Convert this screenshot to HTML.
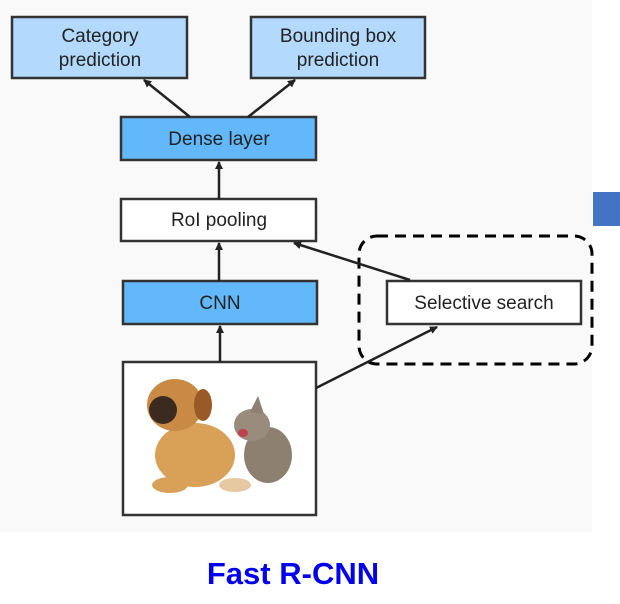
<!DOCTYPE html>
<html><head><style>
body{margin:0;width:620px;height:604px;background:#fff;overflow:hidden;font-family:"Liberation Sans",sans-serif}
</style></head><body>
<svg width="620" height="604" xmlns="http://www.w3.org/2000/svg" style="position:absolute;left:0;top:0">
<defs><marker id="a" markerWidth="8" markerHeight="8" refX="7" refY="4" orient="auto" markerUnits="userSpaceOnUse"><path d="M0,0 L8,4 L0,8 z" fill="#222"/></marker></defs>
<rect x="0" y="0" width="592" height="532" fill="#f9f9f9"/>
<rect x="593" y="192" width="27" height="34" fill="#4472c4"/>
<g stroke="#333" stroke-width="2.5">
<rect x="12" y="17" width="175" height="61" fill="#b3dafc"/>
<rect x="251" y="17" width="174" height="61" fill="#b3dafc"/>
<rect x="121" y="117" width="195" height="43" fill="#63b8fb"/>
<rect x="121" y="199" width="195" height="42" fill="#fff"/>
<rect x="123" y="281" width="194" height="43" fill="#63b8fb"/>
<rect x="387" y="281" width="194" height="43" fill="#fff"/>
<rect x="123" y="362" width="193" height="153" fill="#fff"/>
</g>
<rect x="359" y="236" width="233" height="128" rx="18" fill="none" stroke="#000" stroke-width="3" stroke-dasharray="11,7"/>
<g stroke="#222" stroke-width="2.5" marker-end="url(#a)">
<line x1="190" y1="117" x2="144" y2="80"/>
<line x1="248" y1="117" x2="295" y2="80"/>
<line x1="219" y1="199" x2="219" y2="162"/>
<line x1="219" y1="281" x2="219" y2="243"/>
<line x1="220" y1="362" x2="220" y2="326"/>
<line x1="410" y1="280" x2="294" y2="243"/>
<line x1="316" y1="388" x2="437" y2="327"/>
</g>
<g font-size="19" fill="#222" text-anchor="middle">
<text x="100" y="42">Category</text><text x="100" y="66">prediction</text>
<text x="338" y="42">Bounding box</text><text x="338" y="66">prediction</text>
<text x="219" y="145">Dense layer</text>
<text x="219" y="226">RoI pooling</text>
<text x="220" y="309">CNN</text>
<text x="484" y="309">Selective search</text>
</g>
<ellipse cx="195" cy="455" rx="40" ry="32" fill="#d9a058"/>
<ellipse cx="175" cy="405" rx="28" ry="26" fill="#c98a45"/>
<ellipse cx="163" cy="410" rx="14" ry="14" fill="#3a2a20"/>
<ellipse cx="203" cy="405" rx="9" ry="16" fill="#9a5a28"/>
<ellipse cx="170" cy="485" rx="18" ry="8" fill="#d9a058"/>
<ellipse cx="235" cy="485" rx="16" ry="7" fill="#e6c9a0"/>
<ellipse cx="268" cy="455" rx="24" ry="28" fill="#8e8070"/>
<ellipse cx="252" cy="425" rx="18" ry="16" fill="#9a8c7c"/>
<polygon points="250,412 258,396 264,414" fill="#8e8070"/>
<ellipse cx="243" cy="433" rx="5" ry="4" fill="#c04050"/>
<text x="293" y="584" font-size="31" font-weight="bold" fill="#0000ee" text-anchor="middle">Fast R-CNN</text>
</svg>
</body></html>
